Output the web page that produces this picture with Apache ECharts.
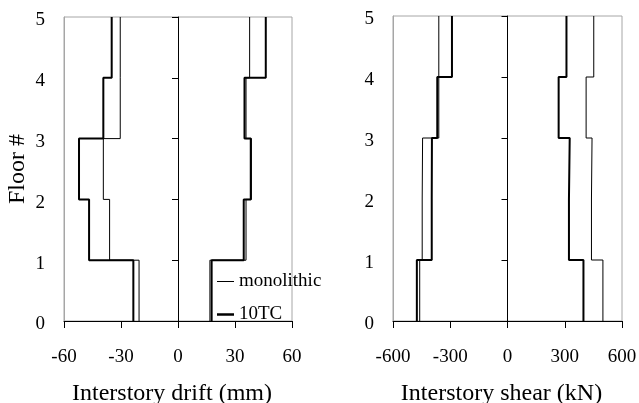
<!DOCTYPE html>
<html><head><meta charset="utf-8">
<script src="https://cdn.jsdelivr.net/npm/echarts@6/dist/echarts.min.js"></script>
<style>html,body{margin:0;padding:0;background:#fff}#c{width:639px;height:403px}</style>
</head><body><div id="c"></div>
<script>
// Floors (story boundaries)
const floors = [0, 1, 2, 3, 4, 5];
// Tick values
const driftTicks = [-60, -30, 0, 30, 60];
const shearTicks = [-600, -300, 0, 300, 600];
// Interstory drift (mm), stories 1..5
const driftMonoNeg = [-20.5, -36, -39.3, -30.4, -30.4];
const driftMonoPos = [16.8, 35.8, 38.6, 35.8, 37.7];
const driftTcNeg = [-23.5, -46.8, -52.1, -39.3, -34.9];
const driftTcPos = [17.7, 34.6, 38.3, 35.0, 46.2];
// Interstory shear (kN), stories 1..5
const shearMonoNeg = [-460, -447, -445, -360, -360];
const shearMonoPos = [500, 440, 443, 412, 452];
const shearTcNeg = [-475, -397, -396, -368, -291];
const shearTcPos = [398, 322, 326, 268, 309];

const FONT = 'Liberation Serif';
function steps(vals) {
  const d = [];
  vals.forEach((v, i) => { d.push([v, floors[i]]); d.push([v, floors[i + 1]]); });
  return d;
}
function ser(name, vals, xi, thick) {
  return {
    name: name, type: 'line', xAxisIndex: xi, yAxisIndex: xi,
    data: steps(vals), symbol: 'none', silent: true,
    lineStyle: { color: '#000', width: thick ? 2 : 1 },
    itemStyle: { color: '#000' }
  };
}
const G = [
  { left: 64, top: 17, width: 228, height: 304 },
  { left: 393, top: 16, width: 229, height: 305 }
];
const grids = [], xAxes = [], yAxes = [];
const ticksets = [driftTicks, shearTicks];
const names = ['Interstory drift (mm)', 'Interstory shear (kN)'];
G.forEach((g, k) => {
  const t = ticksets[k];
  grids.push(Object.assign({ show: true, borderColor: '#a6a6a6', borderWidth: 1, backgroundColor: 'transparent', containLabel: false, outerBoundsMode: 'none' }, g));
  xAxes.push({
    gridIndex: k, type: 'value', min: t[0], max: t[t.length - 1], interval: t[1] - t[0],
    axisLine: { onZero: false, lineStyle: { color: '#000', width: 1 } },
    axisTick: { show: true, inside: false, length: 7, lineStyle: { color: '#000' } },
    axisLabel: { color: '#000', fontFamily: FONT, fontSize: 19, margin: 27 },
    splitLine: { show: false },
    name: names[k], nameLocation: 'middle', nameGap: 61,
    nameTextStyle: { color: '#000', fontFamily: FONT, fontSize: 24, padding: [0, 12, 0, 0] }
  });
  yAxes.push({
    gridIndex: k, type: 'value', min: floors[0], max: floors[floors.length - 1], interval: 1,
    axisLine: { onZero: false, lineStyle: { color: '#a6a6a6', width: 1 } },
    axisTick: { show: false },
    axisLabel: {
      color: '#000', fontFamily: FONT, fontSize: 19, margin: 19,
      formatter: '{a|{value}}',
      rich: { a: { color: '#000', fontFamily: FONT, fontSize: 19, padding: [7, 0, 0, 0] } }
    },
    splitLine: { show: false },
    name: k === 0 ? 'Floor #' : '', nameLocation: 'middle', nameRotate: 90, nameGap: 34,
    nameTextStyle: { color: '#000', fontFamily: FONT, fontSize: 24 }
  });
});
// zero-line overlay grids
G.forEach((g, k) => {
  const idx = 2 + k;
  grids.push({ left: g.left + g.width / 2, top: g.top, width: 1, height: g.height, show: false, containLabel: false, outerBoundsMode: 'none' });
  xAxes.push({ gridIndex: idx, type: 'value', min: 0, max: 1, show: false });
  yAxes.push({
    gridIndex: idx, type: 'value', position: 'left', min: floors[0], max: floors[floors.length - 1], interval: 1,
    axisLine: { show: true, onZero: false, lineStyle: { color: '#000', width: 1 } },
    axisTick: { show: true, inside: false, length: 6, lineStyle: { color: '#000' } },
    axisLabel: { show: false }, splitLine: { show: false }
  });
});

const chart = echarts.init(document.getElementById('c'), null, { renderer: 'canvas' });
chart.setOption({
  animation: false,
  backgroundColor: '#fff',
  grid: grids, xAxis: xAxes, yAxis: yAxes,
  legend: {
    orient: 'vertical', left: 212, top: 267, itemWidth: 17, itemHeight: 10, itemGap: 14,
    textStyle: { color: '#000', fontFamily: FONT, fontSize: 19 },
    data: [
      { name: 'monolithic', icon: 'path://M0,0H17V1H0Z' },
      { name: '10TC', icon: 'path://M0,0H17V2.5H0Z' }
    ]
  },
  series: [
    ser('monolithic', driftMonoNeg, 0, false),
    ser('monolithic', driftMonoPos, 0, false),
    ser('10TC', driftTcNeg, 0, true),
    ser('10TC', driftTcPos, 0, true),
    ser('monolithic', shearMonoNeg, 1, false),
    ser('monolithic', shearMonoPos, 1, false),
    ser('10TC', shearTcNeg, 1, true),
    ser('10TC', shearTcPos, 1, true)
  ]
});
</script></body></html>
